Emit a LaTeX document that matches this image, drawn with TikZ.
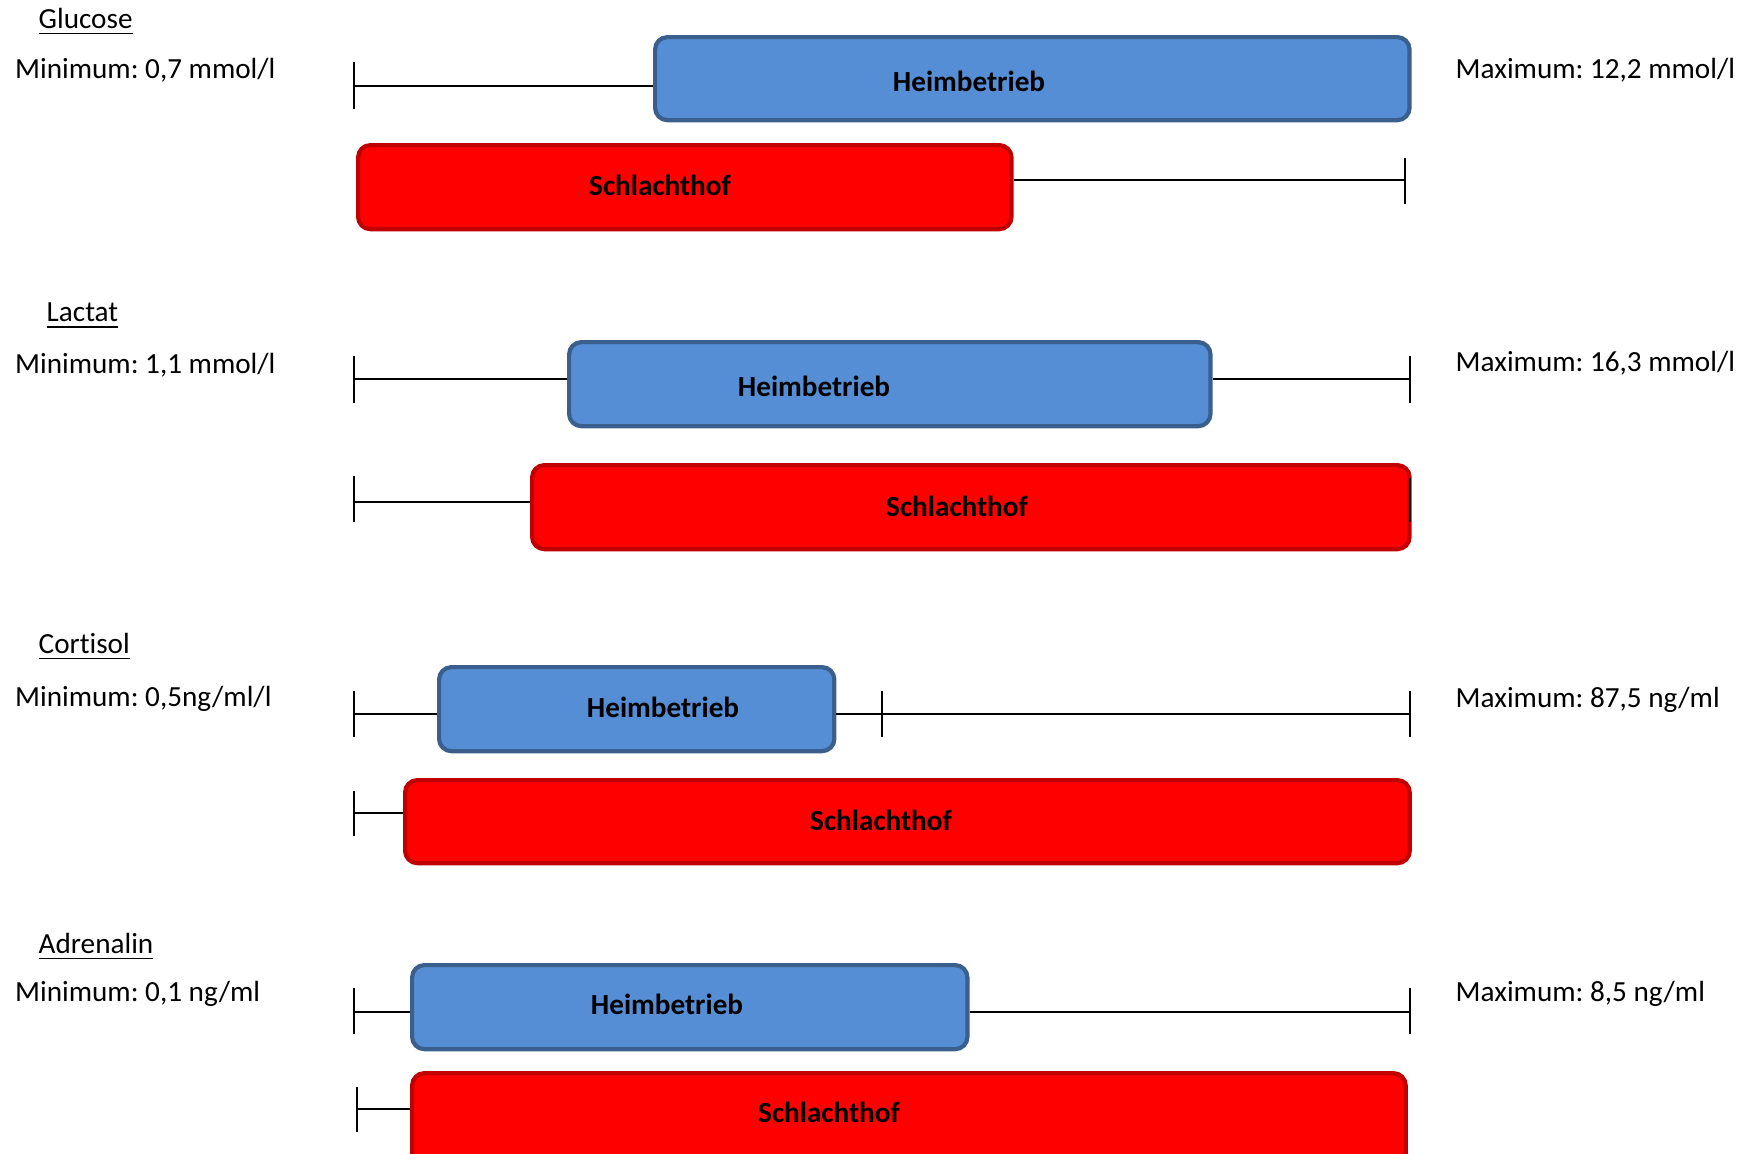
\documentclass[tikz,border=0pt]{standalone}
\usepackage{fontspec}
\setmainfont{Carlito}[Ligatures=NoCommon]
\frenchspacing
\definecolor{hfill}{RGB}{85,142,213}
\definecolor{hdraw}{RGB}{58,95,140}
\definecolor{sfill}{RGB}{255,0,0}
\definecolor{sdraw}{RGB}{192,0,0}
\begin{document}
\begin{tikzpicture}[x=0.01cm,y=-0.01cm,font=\fontsize{8.3}{10}\selectfont,
  hbox/.style={draw=hdraw,fill=hfill,line width=1.2pt,rounded corners=3.5pt,anchor=north west,inner sep=0pt},
  sbox/.style={draw=sdraw,fill=sfill,line width=1.2pt,rounded corners=3.5pt,anchor=north west,inner sep=0pt},
  lbl/.style={font=\fontsize{8.3}{10}\selectfont\bfseries,inner sep=0pt},
  txt/.style={anchor=west,inner sep=0pt},
  whisk/.style={line width=0.7pt,black},
  tick/.style={line width=0.6pt,black}]
\useasboundingbox (0,0) rectangle (1744,1153);

% ---------- Glucose ----------
\node[txt] (gT) at (38,22) {\underline{Glucose}};
\node[txt] (gMin) at (14.5,70) {Minimum: 0,7 mmol/l};
\node[txt] (gMax) at (1455,70) {Maximum: 12,2 mmol/l};
\node[hbox,minimum width=7.54cm,minimum height=0.83cm] (gB) at (653,35) {};
\node[lbl] (gBt) at (969,81) {Heimbetrieb};
\node[sbox,minimum width=6.53cm,minimum height=0.84cm] (gR) at (356,143) {};
\node[lbl] (gRt) at (660,185) {Schlachthof};
\coordinate (gBl) at (354,86);
\coordinate (gRr) at (1405,180);
\draw[whisk] (gBl) -- (gBl -| gB.west);
\draw[tick] (354,62) -- (354,109);
\draw[whisk] (gRr -| gR.east) -- (gRr);
\draw[tick] (1405,158) -- (1405,204);

% ---------- Lactat ----------
\node[txt] (lT) at (46,316) {\underline{Lactat}};
\node[txt] (lMin) at (14.5,365) {Minimum: 1,1 mmol/l};
\node[txt] (lMax) at (1455,363) {Maximum: 16,3 mmol/l};
\node[hbox,minimum width=6.41cm,minimum height=0.84cm] (lB) at (567,340) {};
\node[lbl] (lBt) at (814,386) {Heimbetrieb};
\node[sbox,minimum width=8.77cm,minimum height=0.84cm] (lR) at (530,463) {};
\node[lbl] (lRt) at (957,506) {Schlachthof};
\coordinate (lBl) at (354,379);
\coordinate (lBr) at (1410,379);
\coordinate (lRl) at (354,502);
\draw[whisk] (lBl) -- (lBl -| lB.west);
\draw[whisk] (lBr -| lB.east) -- (lBr);
\draw[tick] (354,356) -- (354,403);
\draw[tick] (1410,356) -- (1410,403);
\draw[whisk] (lRl) -- (lRl -| lR.west);
\draw[tick] (354,476) -- (354,522);
\draw[tick] (1410,478) -- (1410,522);

% ---------- Cortisol ----------
\node[txt] (cT) at (38,647) {\underline{Cortisol}};
\node[txt] (cMin) at (14.5,699) {Minimum: 0,5ng/ml/l};
\node[txt] (cMax) at (1455,700) {Maximum: 87,5 ng/ml};
\node[hbox,minimum width=3.95cm,minimum height=0.84cm] (cB) at (437,665) {};
\node[lbl] (cBt) at (663,707) {Heimbetrieb};
\node[sbox,minimum width=10.04cm,minimum height=0.83cm] (cR) at (403,778) {};
\node[lbl] (cRt) at (881,820) {Schlachthof};
\coordinate (cBl) at (354,714);
\coordinate (cBr) at (1410,714);
\coordinate (cRl) at (354,813);
\draw[whisk] (cBl) -- (cBl -| cB.west);
\draw[whisk] (cBr -| cB.east) -- (cBr);
\draw[tick] (354,691) -- (354,737);
\draw[tick] (882,691) -- (882,737);
\draw[tick] (1410,691) -- (1410,737);
\draw[whisk] (cRl) -- (cRl -| cR.west);
\draw[tick] (354,791) -- (354,836);

% ---------- Adrenalin ----------
\node[txt] (aT) at (38,947) {\underline{Adrenalin}};
\node[txt] (aMin) at (14.5,994) {Minimum: 0,1 ng/ml};
\node[txt] (aMax) at (1455,994) {Maximum: 8,5 ng/ml};
\node[hbox,minimum width=5.55cm,minimum height=0.84cm] (aB) at (410,963) {};
\node[lbl] (aBt) at (667,1004) {Heimbetrieb};
\node[sbox,minimum width=9.93cm,minimum height=0.95cm] (aR) at (410,1071) {};
\node[lbl] (aRt) at (829,1112) {Schlachthof};
\coordinate (aBl) at (354,1012);
\coordinate (aBr) at (1410,1012);
\coordinate (aRl) at (357,1109);
\draw[whisk] (aBl) -- (aBl -| aB.west);
\draw[whisk] (aBr -| aB.east) -- (aBr);
\draw[tick] (354,988) -- (354,1034);
\draw[tick] (1410,988) -- (1410,1034);
\draw[whisk] (aRl) -- (aRl -| aR.west);
\draw[tick] (357,1087) -- (357,1132);
\end{tikzpicture}
\end{document}
